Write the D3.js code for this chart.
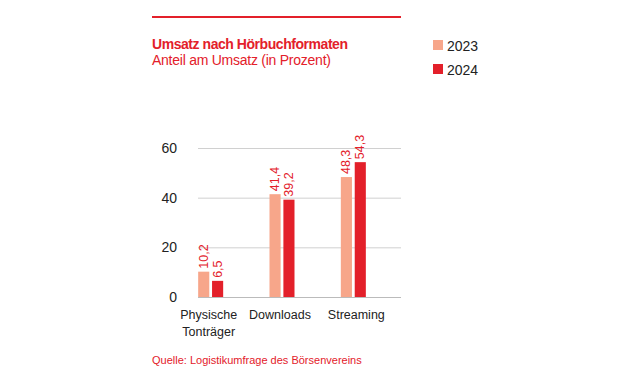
<!DOCTYPE html>
<html><head><meta charset="utf-8">
<script src="https://cdn.jsdelivr.net/npm/d3@7"></script>
<style>body{margin:0;background:#fff;} svg{display:block;font-family:"Liberation Sans", Arial, sans-serif;}</style>
</head><body>
<svg id="c" width="630" height="370"></svg>
<script>
const categories = [["Physische","Tonträger"],["Downloads"],["Streaming"]];
const categoryKeys = ["Physische Tonträger","Downloads","Streaming"];
const seriesNames = ["2023","2024"];
const values2023 = [10.2, 41.4, 48.3];
const values2024 = [6.5, 39.2, 54.3];
const yTicks = [0, 20, 40, 60];
const colors = ["#f7a68a", "#e3202a"];
const red = "#e3202a";

const svg = d3.select("#c");
svg.append("line").attr("x1",152).attr("x2",401).attr("y1",17).attr("y2",17)
  .attr("stroke",red).attr("stroke-width",2);
svg.append("text").attr("x",152).attr("y",49).attr("fill",red)
  .attr("font-size",14).attr("font-weight",700).attr("letter-spacing",-0.45).text("Umsatz nach Hörbuchformaten");
svg.append("text").attr("x",152).attr("y",65).attr("fill",red)
  .attr("font-size",14).attr("letter-spacing",-0.25).text("Anteil am Umsatz (in Prozent)");

seriesNames.forEach((s,i)=>{
  const g = svg.append("g").attr("transform",`translate(433,${40+i*24})`);
  g.append("rect").attr("width",10).attr("height",10).attr("fill",colors[i]);
  g.append("text").attr("x",14).attr("y",10.5).attr("font-size",14).attr("fill","#222").text(s);
});

const y = d3.scaleLinear().domain([0,60]).range([297,148]);
const x = d3.scaleBand().domain(categoryKeys).range([175,389]);
const xs = d3.scaleBand().domain(seriesNames).range([0,25]).paddingInner(0.2);

svg.append("g").selectAll("line").data(yTicks).join("line")
  .attr("x1",198).attr("x2",401).attr("y1",d=>y(d)+0.5).attr("y2",d=>y(d)+0.5)
  .attr("stroke",d=>d===0?"#bbb":"#d0d0d0").attr("stroke-width",1);
svg.append("g").selectAll("text").data(yTicks).join("text")
  .attr("x",177).attr("y",d=>y(d)+5).attr("text-anchor","end")
  .attr("font-size",14).attr("fill","#222").text(d=>d);

const data = categoryKeys.map((c,i)=>({c, vals:[values2023[i], values2024[i]]}));
const groups = svg.append("g").selectAll("g").data(data).join("g")
  .attr("transform",d=>`translate(${x(d.c)+x.bandwidth()/2-12.5},0)`);
groups.selectAll("rect").data(d=>d.vals.map((v,i)=>({v,s:seriesNames[i],i})))
  .join("rect").attr("x",d=>xs(d.s)).attr("width",xs.bandwidth())
  .attr("y",d=>y(d.v)).attr("height",d=>y(0)-y(d.v)).attr("fill",d=>colors[d.i]);
groups.selectAll("text").data(d=>d.vals.map((v,i)=>({v,s:seriesNames[i],i})))
  .join("text")
  .attr("transform",d=>`translate(${xs(d.s)+xs.bandwidth()/2+4},${y(d.v)-3}) rotate(-90)`)
  .attr("font-size",12.5).attr("fill",red)
  .text(d=>d3.format(".1f")(d.v).replace(".",","));

svg.append("g").selectAll("text").data(categoryKeys).join("text")
  .attr("text-anchor","middle").attr("font-size",12.5).attr("fill","#222")
  .attr("y",319)
  .each(function(d,i){
    const t=d3.select(this);
    const cx = x(d)+x.bandwidth()/2 - (i===1?2:0) + (i===2?3:0) - (i===0?2:0);
    categories[i].forEach((line,j)=>t.append("tspan").attr("x",cx).attr("dy",j?17:0).text(line));
  });

svg.append("text").attr("x",152).attr("y",364).attr("fill",red).attr("font-size",11)
  .text("Quelle: Logistikumfrage des Börsenvereins");
</script>
</body></html>
